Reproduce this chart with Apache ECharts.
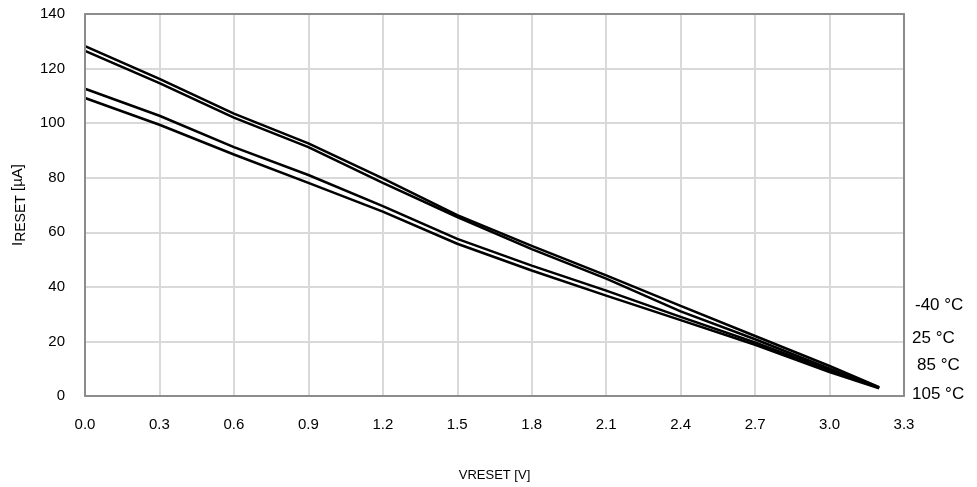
<!DOCTYPE html>
<html>
<head>
<meta charset="utf-8">
<script src="https://cdn.jsdelivr.net/npm/echarts@6/dist/echarts.min.js"></script>
<style>html,body{margin:0;padding:0;background:#fff}#c{width:977px;height:487px}</style>
</head>
<body>
<div id="c"></div>
<script>
var vreset = [0.0, 0.3, 0.6, 0.9, 1.2, 1.5, 1.8, 2.1, 2.4, 2.7, 3.0, 3.2];
var iMinus40 = [128.2, 116.2, 103.5, 92.6, 79.8, 66.3, 55.0, 44.2, 33.0, 22.0, 11.0, 3.2];
var i25 = [126.5, 114.7, 102.0, 91.2, 78.1, 65.6, 53.8, 43.0, 31.0, 20.8, 10.0, 3.0];
var i85 = [112.6, 102.7, 91.2, 81.0, 69.6, 57.6, 47.8, 38.6, 29.0, 19.6, 9.5, 3.0];
var i105 = [109.2, 99.4, 88.5, 78.1, 67.6, 55.8, 46.0, 36.8, 27.8, 18.8, 8.8, 2.8];
var seriesNames = ['-40 °C', '25 °C', '85 °C', '105 °C'];
var seriesData = [iMinus40, i25, i85, i105];

function pairs(ys) { return vreset.map(function (x, i) { return [x, ys[i]]; }); }

var chart = echarts.init(document.getElementById('c'), null, {renderer: 'canvas'});
var font = 'Liberation Sans, Arial, sans-serif';
var borderLine = {show: true, onZero: false, lineStyle: {color: '#8c8c8c', width: 2}};
chart.setOption({
  animation: false,
  textStyle: {fontFamily: font},
  grid: {left: 85, right: 73, top: 14, bottom: 91, show: false, containLabel: false},
  xAxis: [{
    type: 'value', min: 0, max: 3.3, interval: 0.3, z: 1,
    name: 'VRESET [V]', nameLocation: 'middle', nameGap: 73,
    nameTextStyle: {fontSize: 13, color: '#000', fontFamily: font},
    axisLine: {show: false},
    axisTick: {show: false},
    splitLine: {show: true, lineStyle: {color: '#d9d9d9', width: 2}},
    axisLabel: {fontSize: 15, color: '#000', margin: 21, fontFamily: font,
      formatter: function (v) { return v.toFixed(1); }}
  }, {
    type: 'value', position: 'top', min: 0, max: 3.3, interval: 0.3, z: 10,
    axisLine: borderLine, axisTick: {show: false}, axisLabel: {show: false}, splitLine: {show: false}
  }, {
    type: 'value', position: 'bottom', min: 0, max: 3.3, interval: 0.3, z: 10,
    axisLine: borderLine, axisTick: {show: false}, axisLabel: {show: false}, splitLine: {show: false}
  }],
  yAxis: [{
    type: 'value', min: 0, max: 140, interval: 20, z: 1,
    name: '{a|I}{b|RESET}{a| [µA]}', nameLocation: 'middle', nameGap: 57,
    nameTextStyle: {fontFamily: font, color: '#000',
      rich: {a: {fontSize: 15, color: '#000', fontFamily: font},
             b: {fontSize: 14, color: '#000', fontFamily: font, padding: [7, 0, 0, 0]}}},
    axisLine: {show: false},
    axisTick: {show: false},
    splitLine: {show: true, lineStyle: {color: '#d9d9d9', width: 2}},
    axisLabel: {fontSize: 15, color: '#000', margin: 20, fontFamily: font}
  }, {
    type: 'value', position: 'right', min: 0, max: 140, interval: 20, z: 10,
    axisLine: borderLine, axisTick: {show: false}, axisLabel: {show: false}, splitLine: {show: false}
  }, {
    type: 'value', position: 'left', min: 0, max: 140, interval: 20, z: 10,
    axisLine: borderLine, axisTick: {show: false}, axisLabel: {show: false}, splitLine: {show: false}
  }],
  series: seriesData.map(function (d, k) {
    return {name: seriesNames[k], type: 'line', data: pairs(d), showSymbol: false,
      lineStyle: {color: '#000', width: 2.5}, itemStyle: {color: '#000'}, z: 3};
  }),
  graphic: [
    {type: 'text', left: 915, top: 297, style: {text: seriesNames[0], fontSize: 17, fill: '#000', fontFamily: font}},
    {type: 'text', left: 912, top: 330, style: {text: seriesNames[1], fontSize: 17, fill: '#000', fontFamily: font}},
    {type: 'text', left: 917, top: 357, style: {text: seriesNames[2], fontSize: 17, fill: '#000', fontFamily: font}},
    {type: 'text', left: 912, top: 386, style: {text: seriesNames[3], fontSize: 17, fill: '#000', fontFamily: font}}
  ]
});
</script>
</body>
</html>
